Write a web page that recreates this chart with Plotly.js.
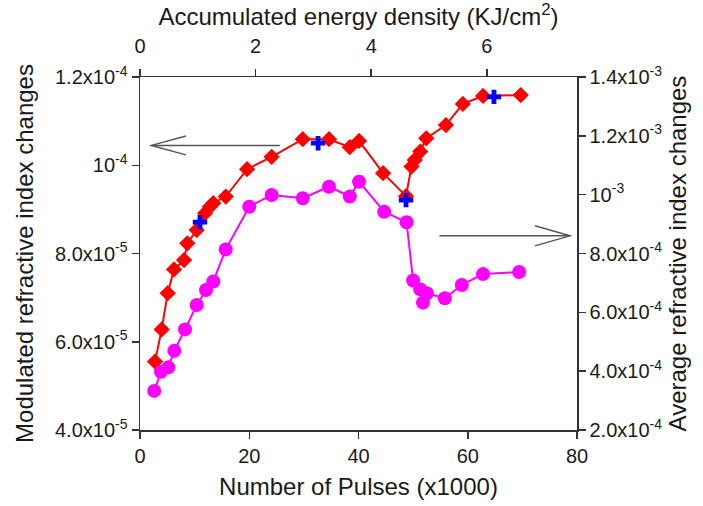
<!DOCTYPE html>
<html>
<head>
<meta charset="utf-8">
<script src="https://cdn.plot.ly/plotly-3.0.1.min.js"></script>
<style>html,body{margin:0;padding:0;background:#fff;}#chart{width:703px;height:506px;}</style>
</head>
<body>
<div id="chart"></div>
<script>
// Modulated refractive index (left axis), red diamonds
const pulsesRed = [2.75, 3.97, 5.07, 6.22, 8.06, 8.66, 10.38, 11.9, 12.8, 13.4, 15.7, 19.6, 24.1, 29.8, 34.6, 38.4, 40.1, 44.5, 48.7, 49.7, 50.3, 51.3, 52.4, 56.0, 59.1, 62.8, 69.7];
const modIndex = [5.55e-5, 6.28e-5, 7.10e-5, 7.64e-5, 7.85e-5, 8.23e-5, 8.53e-5, 8.91e-5, 9.06e-5, 9.14e-5, 9.29e-5, 9.91e-5, 1.019e-4, 1.059e-4, 1.059e-4, 1.041e-4, 1.055e-4, 9.82e-5, 9.30e-5, 9.97e-5, 1.012e-4, 1.031e-4, 1.061e-4, 1.091e-4, 1.139e-4, 1.157e-4, 1.159e-4];
// Blue plus markers (left axis)
const pulsesBlue = [10.98, 32.6, 48.7, 64.8];
const modBlue = [8.71e-5, 1.050e-4, 9.21e-5, 1.155e-4];
// Average refractive index (right axis), magenta circles
const pulsesMag = [2.6, 3.84, 5.18, 6.28, 8.24, 10.38, 12.08, 13.42, 15.69, 20.0, 24.1, 29.8, 34.6, 38.4, 40.1, 44.7, 48.8, 50.0, 51.3, 51.8, 52.5, 55.8, 58.9, 62.8, 69.4];
const avgIndex = [3.33e-4, 3.98e-4, 4.13e-4, 4.69e-4, 5.42e-4, 6.25e-4, 6.76e-4, 7.05e-4, 8.14e-4, 9.59e-4, 9.99e-4, 9.88e-4, 1.027e-3, 9.94e-4, 1.044e-3, 9.42e-4, 9.06e-4, 7.08e-4, 6.78e-4, 6.33e-4, 6.65e-4, 6.48e-4, 6.93e-4, 7.30e-4, 7.37e-4];

// Tick labels
const xTicks = [0, 20, 40, 60, 80];
const x2Ticks = [0, 2, 4, 6];
const yTickVals = [4e-5, 6e-5, 8e-5, 1e-4, 1.2e-4];
const yTickText = ['4.0x10<sup>-5</sup>', '6.0x10<sup>-5</sup>', '8.0x10<sup>-5</sup>', '10<sup>-4</sup>', '1.2x10<sup>-4</sup>'];
const y2TickVals = [2e-4, 4e-4, 6e-4, 8e-4, 1e-3, 1.2e-3, 1.4e-3];
const y2TickText = ['2.0x10<sup>-4</sup>', '4.0x10<sup>-4</sup>', '6.0x10<sup>-4</sup>', '8.0x10<sup>-4</sup>', '10<sup>-3</sup>', '1.2x10<sup>-3</sup>', '1.4x10<sup>-3</sup>'];

const FONT = 'Liberation Sans, Arial, sans-serif';
const AX = '#333333';
const TXT = '#1a1a1a';

const traces = [
  {x: pulsesMag, y: avgIndex, yaxis: 'y2', type: 'scatter', mode: 'lines+markers',
   line: {color: '#ff00ff', width: 2}, marker: {symbol: 'circle', size: 14, color: '#ff00ff'}, showlegend: false},
  {x: pulsesRed, y: modIndex, type: 'scatter', mode: 'lines+markers',
   line: {color: '#ff0000', width: 2}, marker: {symbol: 'diamond', size: 12.5, color: '#ff0000'}, showlegend: false},
  {x: pulsesBlue, y: modBlue, type: 'scatter', mode: 'markers',
   marker: {symbol: 'cross', size: 12, color: '#0000ff'}, showlegend: false},
  {x: [0], y: [0], xaxis: 'x2', type: 'scatter', mode: 'markers', marker: {opacity: 0}, showlegend: false, hoverinfo: 'skip'}
];

const axBase = {showgrid: false, zeroline: false, showline: true, linecolor: AX, linewidth: 1.5,
  ticks: 'outside', ticklen: 7, tickcolor: AX, tickwidth: 1.5, tickfont: {family: FONT, size: 20, color: TXT}};
const titleFont = {family: FONT, size: 24, color: TXT};

const layout = {
  width: 703, height: 506,
  margin: {l: 140, r: 126, t: 77, b: 76},
  paper_bgcolor: '#fff', plot_bgcolor: '#fff',
  font: {family: FONT, color: TXT},
  xaxis: Object.assign({}, axBase, {range: [0, 80], tickvals: xTicks, ticktext: xTicks.map(String),
    title: {text: 'Number of Pulses (x1000)', font: titleFont, standoff: 12}}),
  xaxis2: Object.assign({}, axBase, {overlaying: 'x', side: 'top', anchor: 'y', range: [0, 7.56],
    tickvals: x2Ticks, ticktext: x2Ticks.map(String), ticklabelstandoff: 8,
    title: {text: 'Accumulated energy density (KJ/cm<sup>2</sup>)', font: titleFont, standoff: 6}}),
  yaxis: Object.assign({}, axBase, {range: [4e-5, 1.2e-4], tickvals: yTickVals, ticktext: yTickText,
    title: {text: 'Modulated refractive index changes', font: titleFont, standoff: 14}}),
  yaxis2: Object.assign({}, axBase, {overlaying: 'y', side: 'right', anchor: 'x', range: [2e-4, 1.4e-3],
    tickvals: y2TickVals, ticktext: y2TickText,
    title: {text: 'Average refractive index changes', font: titleFont, standoff: 8}}),
  shapes: [
    {type: 'line', xref: 'x', yref: 'y', x0: 25.6, y0: 1.045e-4, x1: 2.1, y1: 1.045e-4, line: {color: '#555', width: 1.5}},
    {type: 'path', xref: 'x', yref: 'y', path: 'M 8.4 1.0665e-4 L 2.1 1.045e-4 L 8.4 1.0235e-4', line: {color: '#555', width: 1.5}},
    {type: 'line', xref: 'x', yref: 'y', x0: 54.8, y0: 8.40e-5, x1: 78.7, y1: 8.40e-5, line: {color: '#555', width: 1.5}},
    {type: 'path', xref: 'x', yref: 'y', path: 'M 72.3 8.627e-5 L 78.7 8.40e-5 L 72.3 8.173e-5', line: {color: '#555', width: 1.5}}
  ]
};

Plotly.newPlot('chart', traces, layout, {staticPlot: true, displayModeBar: false});
</script>
</body>
</html>
